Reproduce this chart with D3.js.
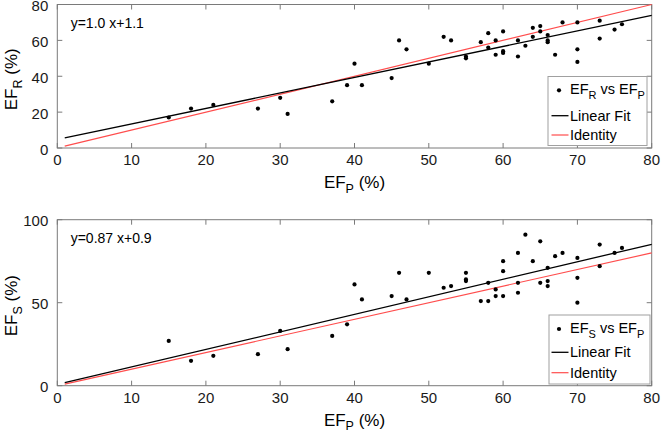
<!DOCTYPE html>
<html><head><meta charset="utf-8">
<script src="https://cdn.jsdelivr.net/npm/d3@7"></script>
<style>body{margin:0;background:#fff}svg{display:block;font-family:"Liberation Sans",Arial,sans-serif}</style>
</head><body><svg id="c" width="661" height="436"></svg>
<script>
// ---- data ----
const xTicks = [0,10,20,30,40,50,60,70,80];
const topYTicks = [0,20,40,60,80];
const botYTicks = [0,50,100];

const topEFP = [15,18,21,27,30,31,37,39,40,41,45,46,47,50,52,53,55,55,57,58,58,59,59,60,60,60,62,62,63,64,64,65,65,66,66,66,67,68,70,70,70,73,73,75,76];
const topEFR = [17,22,24,22,28,19,26,35,47,35,39,60,55,47,62,60,51,50,59,64,56,60,52,65,54,53,60,51,57,67,62,68,65,63,60,59,52,70,70,55,48,71,61,66,69];

const botEFP = [15,18,21,27,30,31,37,39,40,41,45,46,47,50,52,53,55,55,55,57,58,58,59,59,60,60,60,62,62,62,63,64,65,65,66,66,66,67,68,70,70,70,73,73,75,76];
const botEFS = [27,15,18,19,33,22,30,37,61,52,54,68,52,68,59,60,68,64,63,51,62,51,58,54,75,69,54,80,62,56,91,75,87,62,71,63,60,78,80,77,65,50,85,72,80,83];

const topFitX = [1,80], topFitY = [5.6,73.9];
const botFitX = [1,80], botFitY = [1.8,85.2];
const identityX = [1,80], identityY = [1,80];

const topEquation = "y=1.0 x+1.1";
const botEquation = "y=0.87 x+0.9";

// ---- drawing ----
const svg = d3.select("#c");
const AX = "#7a7a7a";
const RED = "#ff4d4d";

function panel(cfg){
  const g = svg.append("g");
  const x = d3.scaleLinear().domain([0,80]).range([57.3,651.7]);
  const y = d3.scaleLinear().domain(cfg.yDomain).range([cfg.bottom,cfg.top]);
  const T = 5;
  g.append("rect").attr("x",x(0)).attr("y",y.range()[1]).attr("width",x(80)-x(0))
    .attr("height",cfg.bottom-cfg.top).attr("fill","#fff").attr("stroke",AX).attr("stroke-width",1);
  xTicks.forEach(t=>{
    g.append("line").attr("x1",x(t)).attr("x2",x(t)).attr("y1",cfg.bottom).attr("y2",cfg.bottom-T).attr("stroke",AX);
    g.append("line").attr("x1",x(t)).attr("x2",x(t)).attr("y1",cfg.top).attr("y2",cfg.top+T).attr("stroke",AX);
    g.append("text").attr("x",x(t)).attr("y",cfg.bottom+17).attr("text-anchor","middle")
      .attr("font-size",15).attr("fill","#1a1a1a").text(t);
  });
  cfg.yTicks.forEach(t=>{
    g.append("line").attr("x1",x(0)).attr("x2",x(0)+T).attr("y1",y(t)).attr("y2",y(t)).attr("stroke",AX);
    g.append("line").attr("x1",x(80)).attr("x2",x(80)-T).attr("y1",y(t)).attr("y2",y(t)).attr("stroke",AX);
    g.append("text").attr("x",x(0)-9).attr("y",y(t)).attr("dy","0.45em").attr("text-anchor","end")
      .attr("font-size",15).attr("fill","#1a1a1a").text(t);
  });
  const line = d3.line().x(d=>x(d[0])).y(d=>y(d[1]));
  g.append("path").datum(d3.zip(identityX,identityY)).attr("d",line).attr("fill","none").attr("stroke",RED).attr("stroke-width",1.2);
  g.append("path").datum(d3.zip(cfg.fitX,cfg.fitY)).attr("d",line).attr("fill","none").attr("stroke","#000").attr("stroke-width",1.3);
  g.selectAll("circle.p").data(d3.zip(cfg.px,cfg.py)).join("circle").attr("class","p")
    .attr("cx",d=>x(d[0])).attr("cy",d=>y(d[1])).attr("r",2.1).attr("fill","#000");
  g.append("text").attr("x",70.7).attr("y",cfg.top+23).attr("font-size",14).attr("fill","#000").text(cfg.eq);
  const xl = g.append("text").attr("x",(x(0)+x(80))/2).attr("y",cfg.bottom+40).attr("text-anchor","middle")
    .attr("font-size",17).attr("fill","#000");
  xl.append("tspan").text("EF");
  xl.append("tspan").attr("font-size",12.5).attr("dy",4.5).text("P");
  xl.append("tspan").attr("dy",-4.5).text(" (%)");
  const yl = g.append("text").attr("transform",`translate(17,${(cfg.top+cfg.bottom)/2+3}) rotate(-90)`)
    .attr("text-anchor","middle").attr("font-size",17).attr("fill","#000");
  yl.append("tspan").text("EF");
  yl.append("tspan").attr("font-size",12.5).attr("dy",4.5).text(cfg.sub);
  yl.append("tspan").attr("dy",-4.5).text(" (%)");
  const L = cfg.legend;
  g.append("rect").attr("x",L.x0).attr("y",L.y0).attr("width",L.x1-L.x0).attr("height",L.y1-L.y0)
    .attr("fill","#fff").attr("stroke","#a0a0a0").attr("stroke-width",1);
  g.append("circle").attr("cx",559).attr("cy",L.r1).attr("r",2.1).attr("fill","#000");
  const t1 = g.append("text").attr("x",570).attr("y",L.r1+4).attr("font-size",14.5).attr("fill","#000");
  t1.append("tspan").text("EF");
  t1.append("tspan").attr("font-size",11).attr("dy",5).text(cfg.sub);
  t1.append("tspan").attr("dy",-5).text(" vs EF");
  t1.append("tspan").attr("font-size",11).attr("dy",5).text("P");
  g.append("line").attr("x1",551.5).attr("x2",568.5).attr("y1",L.r2).attr("y2",L.r2).attr("stroke","#000").attr("stroke-width",1.3);
  g.append("text").attr("x",570).attr("y",L.r2+5).attr("font-size",14.5).attr("fill","#000").text("Linear Fit");
  g.append("line").attr("x1",551.5).attr("x2",568.5).attr("y1",L.r3).attr("y2",L.r3).attr("stroke",RED).attr("stroke-width",1.2);
  g.append("text").attr("x",570).attr("y",L.r3+5).attr("font-size",14.5).attr("fill","#000").text("Identity");
}

panel({yDomain:[0,80], top:4.5, bottom:148, yTicks:topYTicks, px:topEFP, py:topEFR,
  fitX:topFitX, fitY:topFitY, eq:topEquation, sub:"R",
  legend:{x0:548,x1:647,y0:76.5,y1:145.5,r1:90.3,r2:115.7,r3:135}});
panel({yDomain:[0,100], top:219.7, bottom:385.7, yTicks:botYTicks, px:botEFP, py:botEFS,
  fitX:botFitX, fitY:botFitY, eq:botEquation, sub:"S",
  legend:{x0:549,x1:650,y0:315,y1:384,r1:329,r2:352.3,r3:372.7}});
</script></body></html>
